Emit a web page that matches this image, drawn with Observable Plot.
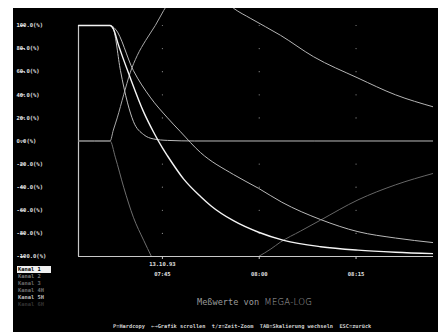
<!DOCTYPE html>
<html>
<head>
<meta charset="utf-8">
<script src="https://cdn.jsdelivr.net/npm/d3@7"></script>
<script src="https://cdn.jsdelivr.net/npm/@observablehq/plot@0.6"></script>
<style>
  html, body { margin: 0; padding: 0; background: #fff; width: 440px; height: 332px; overflow: hidden; }
  #screen { position: absolute; left: 13px; top: 8px; width: 425px; height: 324px; background: #000; overflow: hidden; }
  #chart { position: absolute; left: 0; top: 0; }
  .mono { font-family: "DejaVu Sans Mono", monospace; font-weight: bold; white-space: pre; position: absolute; }
  #legend div { position: absolute; left: 4px; font-size: 5.4px; line-height: 7px; height: 7px; width: 33px; padding-left: 1px; }
  #title { left: 184px; top: 289px; font-size: 8.6px; color: #9a9a9a; font-weight: normal; }
  #title span.b { font-family: "DejaVu Sans", sans-serif; font-weight: 300; color: #a8a8a8; letter-spacing: 0.2px; }
  #help { left: 100px; top: 315px; font-size: 5.3px; color: #cfcfcf; }
</style>
</head>
<body>
<div id="screen">
  <div id="chart"></div>
  <div id="legend"></div>
  <div id="title" class="mono">Meßwerte von <span class="b">MEGA-LOG</span></div>
  <div id="help" class="mono">P=Hardcopy  ←→Grafik scrollen  t/z=Zeit-Zoom  TAB=Skalierung wechseln  ESC=zurück</div>
</div>
<script>
// ---- data (time in minutes after 07:00, value in %) ----
const xTickValues = [45, 60, 75];
const xTickLabels = ["07:45", "08:00", "08:15"];
const dateLabel = "13.10.93";
const yTickValues = [-100, -80, -60, -40, -20, 0, 20, 40, 60, 80, 100];
const gridDotLevels = [-80, -60, -40, -20, 20, 40, 60, 80, 100];

const kanalNames = ["Kanal 1", "Kanal 2", "Kanal 3", "Kanal 4H", "Kanal 5H", "Kanal 6H"];
const kanalColors = ["#000", "#7a7a7a", "#6a6a6a", "#707070", "#bdbdbd", "#333"];

const kanal1 = [[32,100],[36.9,100],[37.4,97],[38.2,83],[40.0,55],[42.1,25],[43.6,8],[45,-6],[45.8,-13],[48.3,-33],[50.9,-48],[52.5,-56],[56.0,-69],[59.9,-79],[63.8,-86],[69.5,-91.5],[75.3,-94.5],[81.1,-96.3],[87,-97.5]];
const kanal2 = [[32,100],[36.9,100],[37.4,97],[38.5,61],[39.6,33],[40.5,17],[42.1,5.5],[43.6,1.8],[45.8,0.5],[50,0],[87,0]];
const kanal3 = [[32,100],[36.9,100],[37.7,97],[40.5,61],[43.1,38],[45.8,20],[47.8,8],[50.9,-10],[56.0,-29],[59.9,-41],[63.5,-53],[69.5,-68],[75.3,-78.5],[81.1,-84],[87,-88]];
const kanal4 = [[32,0],[36.9,0],[37.4,9.5],[38.0,20],[39.0,40],[40.0,59],[41.1,74],[42.4,87],[43.9,100],[45.2,113],[46.2,122]];
const kanal5 = [[54.5,122],[56.0,115],[58.7,106],[63.3,91.5],[68.4,73],[75.3,54.5],[81.1,40],[87,29.5]];
const kanal6 = [[59.9,-100],[61.8,-93.5],[63.3,-87.5],[66.4,-78],[69.5,-68.5],[75.3,-51],[81.1,-38],[87,-28]];
const kanal7 = [[32,0],[36.9,0],[37.7,-14],[39.0,-40],[40.5,-66],[42.1,-86],[43.3,-100]];

const series = [
  {data: kanal6, stroke: "#666", w: 1},
  {data: kanal7, stroke: "#6e6e6e", w: 1},
  {data: kanal5, stroke: "#b4b4b4", w: 1},
  {data: kanal4, stroke: "#a8a8a8", w: 1},
  {data: kanal3, stroke: "#b8b8b8", w: 1},
  {data: kanal2, stroke: "#bcbcbc", w: 1},
  {data: kanal1, stroke: "#f4f4f4", w: 1.4}
];

const gridDots = xTickValues.flatMap(x => gridDotLevels.map(y => ({x, y})));

const chart = Plot.plot({
  width: 425,
  height: 276,
  marginLeft: 65,
  marginRight: 5,
  marginTop: 0,
  marginBottom: 28,
  style: {background: "transparent", color: "#e0e0e0", fontFamily: "DejaVu Sans Mono", fontSize: "5.5px", fontWeight: "bold"},
  x: {domain: [32, 87]},
  y: {domain: [-100, 114.7]},
  marks: [
    Plot.dot(gridDots, {x: "x", y: "y", r: 0.6, fill: "#8a8a8a", stroke: null}),
    Plot.ruleX([32], {y1: -100, y2: 100, stroke: "#c8c8c8", strokeWidth: 1.2}),
    Plot.ruleY([-100], {stroke: "#c8c8c8", strokeWidth: 1.2}),
    ...series.map(s => Plot.line(s.data, {x: d => d[0], y: d => d[1], stroke: s.stroke, strokeWidth: s.w, curve: "monotone-x", clip: true})),
    Plot.axisY({ticks: yTickValues, tickSize: 5, tickFormat: d => d.toFixed(1) + "(%)", textAnchor: "start", dx: -53, stroke: "#c8c8c8", label: null}),
    Plot.axisX({ticks: xTickValues, tickSize: 3, tickPadding: 13, tickFormat: d => xTickLabels[xTickValues.indexOf(d)], stroke: "#c8c8c8", label: null}),
    Plot.text([dateLabel], {x: () => xTickValues[0], text: d => d, frameAnchor: "bottom", dy: 9, fill: "#e0e0e0"})
  ]
});
document.getElementById("chart").appendChild(chart);

const legend = document.getElementById("legend");
kanalNames.forEach((name, i) => {
  const el = document.createElement("div");
  el.className = "mono";
  el.textContent = name;
  el.style.top = (258 + i * 7) + "px";
  if (i === 0) { el.style.background = "#f0f0f0"; el.style.color = "#000"; }
  else { el.style.color = kanalColors[i]; }
  legend.appendChild(el);
});
</script>
</body>
</html>
